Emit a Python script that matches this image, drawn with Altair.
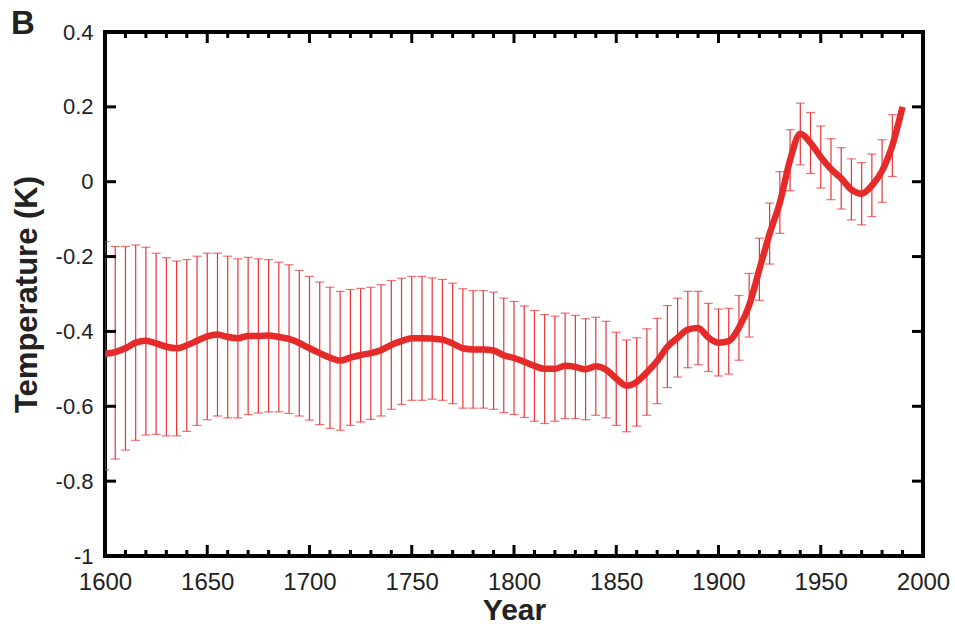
import altair as alt
import pandas as pd

# ---- data ----
bar_years = list(range(1600, 1990, 5))  # 1600 .. 1985
upper = [-0.160, -0.173, -0.173, -0.169, -0.175, -0.191, -0.203, -0.212, -0.208, -0.199,
         -0.191, -0.191, -0.199, -0.206, -0.202, -0.206, -0.208, -0.215, -0.222, -0.237,
         -0.253, -0.268, -0.282, -0.293, -0.288, -0.285, -0.282, -0.275, -0.264, -0.258,
         -0.253, -0.253, -0.257, -0.261, -0.271, -0.286, -0.291, -0.291, -0.295, -0.311,
         -0.320, -0.332, -0.344, -0.355, -0.359, -0.351, -0.357, -0.366, -0.362, -0.373,
         -0.402, -0.423, -0.417, -0.393, -0.365, -0.331, -0.311, -0.293, -0.293, -0.325,
         -0.340, -0.338, -0.304, -0.245, -0.151, -0.057, 0.027, 0.139, 0.210, 0.185,
         0.149, 0.115, 0.091, 0.061, 0.051, 0.074, 0.112, 0.179]
lower = [-0.770, -0.741, -0.717, -0.691, -0.677, -0.675, -0.679, -0.679, -0.667, -0.651,
         -0.636, -0.626, -0.631, -0.631, -0.622, -0.618, -0.615, -0.615, -0.619, -0.626,
         -0.637, -0.649, -0.659, -0.664, -0.651, -0.642, -0.635, -0.626, -0.608, -0.595,
         -0.584, -0.584, -0.581, -0.584, -0.593, -0.605, -0.605, -0.605, -0.608, -0.617,
         -0.622, -0.630, -0.640, -0.646, -0.640, -0.633, -0.633, -0.636, -0.624, -0.631,
         -0.651, -0.668, -0.653, -0.624, -0.593, -0.550, -0.522, -0.497, -0.489, -0.507,
         -0.519, -0.514, -0.477, -0.415, -0.317, -0.220, -0.138, -0.024, 0.045, 0.022,
         -0.017, -0.048, -0.073, -0.102, -0.115, -0.093, -0.055, 0.014]

line_years = list(range(1600, 1995, 5))  # 1600 .. 1990
temp = [-0.460, -0.455, -0.445, -0.430, -0.425, -0.432, -0.441, -0.445, -0.437, -0.425,
        -0.413, -0.408, -0.415, -0.418, -0.412, -0.412, -0.411, -0.415, -0.420, -0.431,
        -0.445, -0.458, -0.470, -0.478, -0.470, -0.463, -0.458, -0.450, -0.436, -0.426,
        -0.418, -0.418, -0.419, -0.422, -0.432, -0.445, -0.448, -0.448, -0.451, -0.464,
        -0.471, -0.481, -0.492, -0.500, -0.500, -0.492, -0.495, -0.501, -0.493, -0.502,
        -0.526, -0.545, -0.535, -0.509, -0.479, -0.441, -0.417, -0.395, -0.391, -0.416,
        -0.430, -0.426, -0.390, -0.330, -0.234, -0.139, -0.056, 0.058, 0.128, 0.104,
        0.066, 0.034, 0.009, -0.021, -0.032, -0.010, 0.029, 0.097, 0.200]

y_tick_values = [-1, -0.8, -0.6, -0.4, -0.2, 0, 0.2, 0.4]
x_major_values = [1600, 1650, 1700, 1750, 1800, 1850, 1900, 1950, 2000]
x_minor_values = [1610, 1620, 1630, 1640, 1660, 1670, 1680, 1690, 1710, 1720, 1730, 1740,
                  1760, 1770, 1780, 1790, 1810, 1820, 1830, 1840, 1860, 1870, 1880, 1890,
                  1910, 1920, 1930, 1940, 1960, 1970, 1980, 1990]

W, H = 818, 524
RED_LINE = "#e52a2a"
RED_BAR = "#e93436"
FONT = "Liberation Sans"

bars = pd.DataFrame({"year": bar_years, "lower": lower, "upper": upper})
line = pd.DataFrame({"year": line_years, "temp": temp})
yt = pd.DataFrame({"v": y_tick_values})
xmaj = pd.DataFrame({"v": x_major_values})
xmin = pd.DataFrame({"v": x_minor_values})

xs = alt.Scale(domain=[1600, 2000], nice=False, zero=False)
ys = alt.Scale(domain=[-1, 0.4], nice=False, zero=False)

xaxis = alt.Axis(values=x_major_values, format="d", title="Year", ticks=False, domain=False,
                 grid=False, labelFontSize=24, labelPadding=14, labelColor="#222",
                 labelFlush=False, labelOverlap=False,
                 titleFontSize=30, titleFontWeight="bold", titlePadding=1, titleColor="#222",
                 labelFont=FONT, titleFont=FONT)
yaxis = alt.Axis(values=y_tick_values, labelExpr="toString(datum.value)", title="Temperature (K)",
                 ticks=False, domain=False, grid=False, labelFontSize=22, labelPadding=12,
                 labelFlush=False, labelOverlap=False,
                 labelColor="#222", titleFontSize=31, titleFontWeight="bold", titlePadding=12,
                 titleColor="#222", labelFont=FONT, titleFont=FONT)

err = alt.Chart(bars).mark_rule(color=RED_BAR, strokeWidth=1.2, clip=True).encode(
    x=alt.X("year:Q", scale=xs, axis=xaxis),
    y=alt.Y("lower:Q", scale=ys, axis=yaxis),
    y2="upper:Q",
)
cap_hi = alt.Chart(bars).mark_tick(color=RED_BAR, orient="horizontal", size=9, thickness=1.2,
                                   clip=True).encode(
    x=alt.X("year:Q", scale=xs, axis=xaxis),
    y=alt.Y("upper:Q", scale=ys, axis=yaxis),
)
cap_lo = alt.Chart(bars).mark_tick(color=RED_BAR, orient="horizontal", size=9, thickness=1.2,
                                   clip=True).encode(
    x=alt.X("year:Q", scale=xs, axis=xaxis),
    y=alt.Y("lower:Q", scale=ys, axis=yaxis),
)
curve = alt.Chart(line).mark_line(color=RED_LINE, strokeWidth=6.5, interpolate="monotone",
                                  clip=True).encode(
    x=alt.X("year:Q", scale=xs, axis=xaxis),
    y=alt.Y("temp:Q", scale=ys, axis=yaxis),
)

# inward ticks on the frame
tk = dict(color="black", strokeWidth=3)
y_left = alt.Chart(yt).mark_rule(**tk).encode(
    y=alt.Y("v:Q", scale=ys, axis=yaxis), x=alt.value(0), x2=alt.value(11))
y_right = alt.Chart(yt).mark_rule(**tk).encode(
    y=alt.Y("v:Q", scale=ys, axis=yaxis), x=alt.value(W - 11), x2=alt.value(W))
x_bot = alt.Chart(xmaj).mark_rule(**tk).encode(
    x=alt.X("v:Q", scale=xs, axis=xaxis), y=alt.value(H - 11), y2=alt.value(H))
x_top = alt.Chart(xmaj).mark_rule(**tk).encode(
    x=alt.X("v:Q", scale=xs, axis=xaxis), y=alt.value(0), y2=alt.value(11))
xm_bot = alt.Chart(xmin).mark_rule(**tk).encode(
    x=alt.X("v:Q", scale=xs, axis=xaxis), y=alt.value(H - 6), y2=alt.value(H))
xm_top = alt.Chart(xmin).mark_rule(**tk).encode(
    x=alt.X("v:Q", scale=xs, axis=xaxis), y=alt.value(0), y2=alt.value(6))

panel = alt.Chart(pd.DataFrame({"t": ["B"]})).mark_text(
    font=FONT, fontSize=33, fontWeight="bold", align="left", baseline="top", color="#222"
).encode(text="t:N", x=alt.value(-94), y=alt.value(-24))

chart = alt.layer(
    err, cap_hi, cap_lo, curve, y_left, y_right, x_bot, x_top, xm_bot, xm_top, panel
).properties(
    width=W, height=H,
    autosize=alt.AutoSizeParams(type="none"),
    padding={"left": 105, "top": 32, "right": 32, "bottom": 74},
).configure(
    font=FONT, background="white",
    view=alt.ViewConfig(stroke="black", strokeWidth=4),
)

chart.save("out.html", embed_options={"renderer": "svg", "actions": False})
